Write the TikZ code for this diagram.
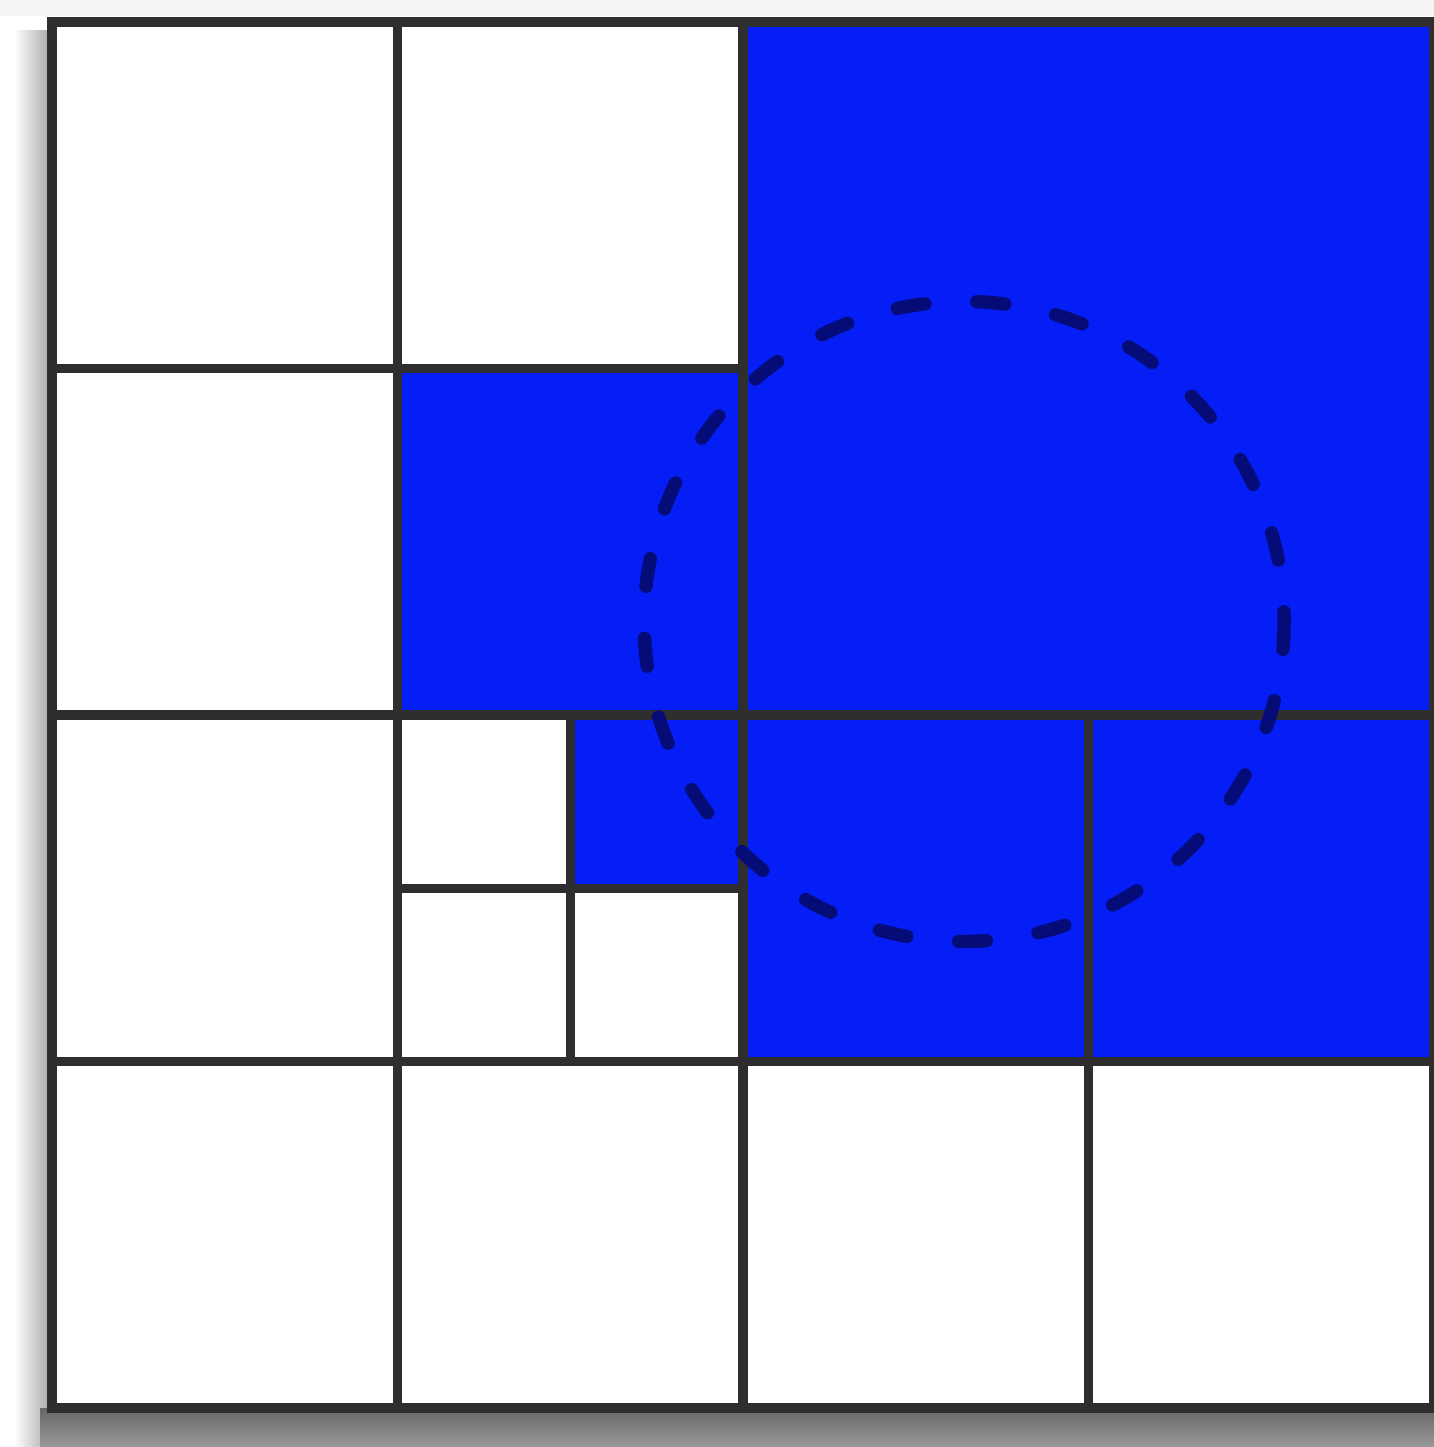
\documentclass[tikz,border=0pt]{standalone}
\usepackage{xcolor}
\usepackage{tikz}
\definecolor{cellblue}{RGB}{4, 30, 245}
\definecolor{dashnavy}{RGB}{5, 12, 120}
\definecolor{gridline}{gray}{0.18}

\begin{document}
\begin{tikzpicture}[x=0.01cm, y=-0.01cm]
			\def\cw{345.5}
			\def\ch{346.5}
			% page and shadow
			\useasboundingbox (0,0) rectangle (1434,1447);
			\fill[white] (0,0) rectangle (1434,1447);
			\fill[gray!8] (0,0) rectangle (1434,16);
			\fill[left color=white, right color=black!35] (14,30) rectangle (52,1447);
			\fill[top color=black!60, bottom color=black!40] (40,1408) rectangle (1434,1447);
			\begin{scope}[shift={(52,22)}]
			% blue cells
			\fill[cellblue] (2*\cw, 0)     rectangle (4*\cw, 2*\ch);
			\fill[cellblue] (\cw, \ch)     rectangle (2*\cw, 2*\ch);
			\fill[cellblue] (2*\cw, 2*\ch) rectangle (4*\cw, 3*\ch);
			\fill[cellblue] (1.5*\cw, 2*\ch) rectangle (2*\cw, 2.5*\ch);

			% grid lines
			\draw[gridline, line width=2.6pt] (0, \ch) -- (2*\cw, \ch);
			\draw[gridline, line width=2.6pt] (0, 2*\ch) -- (4*\cw, 2*\ch);
			\draw[gridline, line width=2.6pt] (0, 3*\ch) -- (4*\cw, 3*\ch);
			\draw[gridline, line width=2.6pt] (\cw, 0) -- (\cw, 4*\ch);
			\draw[gridline, line width=2.6pt] (2*\cw, 0) -- (2*\cw, 4*\ch);
			\draw[gridline, line width=2.6pt] (3*\cw, 2*\ch) -- (3*\cw, 4*\ch);
			% small quadrants
			\draw[gridline, line width=2.6pt] (\cw, 2.5*\ch) -- (2*\cw, 2.5*\ch);
			\draw[gridline, line width=2.6pt] (1.5*\cw, 2*\ch) -- (1.5*\cw, 3*\ch);

			\draw[gridline, line width=2.8pt] (0,0) rectangle (4*\cw, 4*\ch);

			% dashed circle
			\draw[dashnavy, line width=3.8pt, line cap=round, dash pattern=on 0.28cm off 0.52cm]
				(2.64*\cw, 1.73*\ch) circle (320);
			\end{scope}

		\end{tikzpicture}
\end{document}
